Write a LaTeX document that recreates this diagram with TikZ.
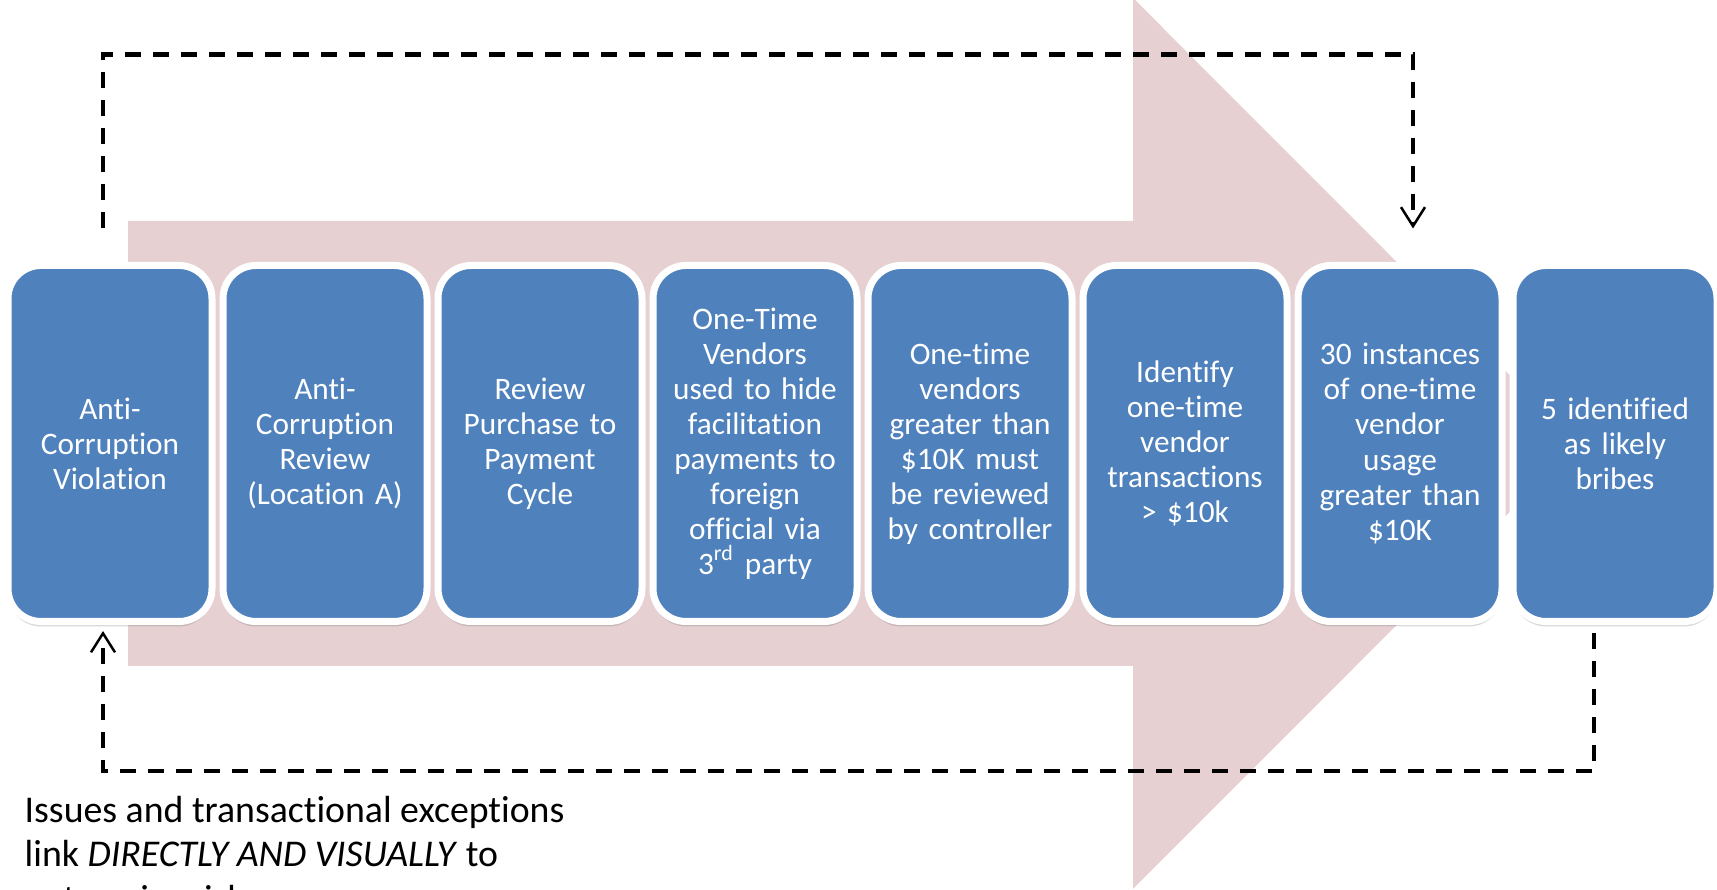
\documentclass[tikz,border=0pt]{standalone}
\usepackage{fontspec}
\setmainfont{Carlito}[Ligatures=NoCommon]
\usepackage{tikz}
\usetikzlibrary{calc}
\usetikzlibrary{arrows.meta}
\usetikzlibrary{shadows}
\definecolor{stepblue}{RGB}{79,129,189}
\definecolor{arrowpink}{RGB}{231,208,209}

\begin{document}
\begin{tikzpicture}[
		stage/.style={draw=white, line width=0.07cm, fill=stepblue, rounded corners=0.33cm,
			minimum width=2.04cm, minimum height=3.56cm, text width=1.95cm, align=center,
			text=white, inner sep=0pt, font=\fontsize{8.9}{9.96}\selectfont,
			drop shadow={shadow xshift=0cm, shadow yshift=-0.05cm, opacity=0.3}},
		loopline/.style={dash pattern=on 0.16cm off 0.12cm, line width=0.042cm,
			-{Straight Barb[length=0.19cm, width=0.24cm, line width=0.025cm]}}]
			\useasboundingbox (0, 0) rectangle (17.17, 8.90);
			% big arrow behind the steps
			\fill[arrowpink] (1.28, 6.69) -- (11.33, 6.69) -- (11.33, 8.92) -- (15.78, 4.465)
				-- (11.33, 0.01) -- (11.33, 2.24) -- (1.28, 2.24) -- cycle;
			\node[stage] (v1) at (1.10, 4.465) {Anti-\\Corruption\\Violation};
			\node[stage] (v2) at (3.25, 4.465) {Anti-\\Corruption\\Review\\(Location A)};
			\node[stage] (v3) at (5.40, 4.465) {Review\\Purchase to\\Payment\\Cycle};
			\node[stage] (v4) at (7.55, 4.465) {One-Time\\Vendors\\used to hide\\facilitation\\payments to\\foreign\\official via\\3\textsuperscript{rd} party};
			\node[stage] (v5) at (9.70, 4.465) {One-time\\vendors\\greater than\\\$10K must\\be reviewed\\by controller};
			\node[stage] (v6) at (11.85, 4.465) {Identify\\one-time\\vendor\\transactions\\> \$10k};
			\node[stage] (v7) at (14.00, 4.465) {30 instances\\of one-time\\vendor\\usage\\greater than\\\$10K};
			\node[stage] (v8) at (16.15, 4.465) {5 identified\\as likely\\bribes};
			% dashed loops
			\draw[loopline] ([xshift=-0.07cm, yshift=0.335cm]v1.north) -- ++(0, 1.74)
				-| ([xshift=0.13cm, yshift=0.335cm]v7.north);
			\draw[loopline] ([xshift=-0.21cm, yshift=-0.08cm]v8.south) -- ++(0, -1.38)
				-| ([xshift=-0.07cm, yshift=-0.06cm]v1.south);
			\node[anchor=base west, align=left, inner sep=0pt, font=\fontsize{10.75}{12.8}\selectfont] (note) at (0.24, -0.22)
				{Issues and transactional exceptions\\link \textit{DIRECTLY AND VISUALLY} to\\enterprise risks};
		\end{tikzpicture}
\end{document}
